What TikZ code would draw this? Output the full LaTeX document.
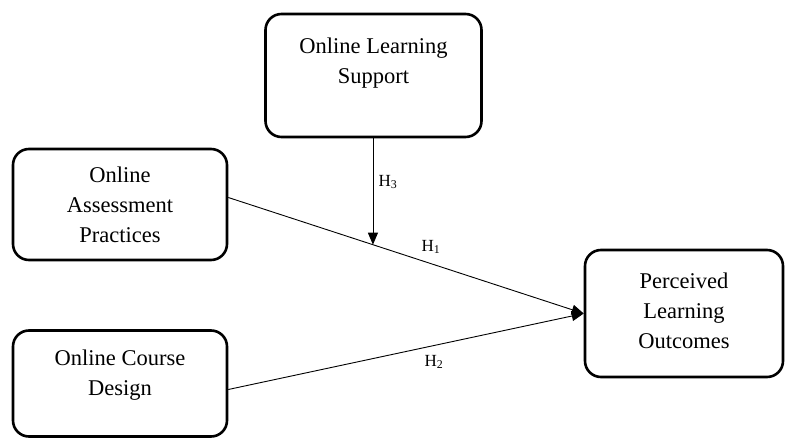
\documentclass[tikz,border=0pt]{standalone}
\usepackage{fontspec}
\setmainfont{Liberation Serif}
\usetikzlibrary{arrows.meta,calc}
\tikzset{
  box/.style={draw=black, line width=2.6pt, rounded corners=16pt, fill=white},
  txt/.style={align=center, font=\fontsize{22.5}{30}\selectfont, inner sep=0pt},
  hyp/.style={font=\fontsize{17}{19}\selectfont, inner sep=0pt},
  link/.style={line width=0.9pt, -{Triangle[length=12pt,width=10pt]}}
}
\begin{document}
\begin{tikzpicture}[x=1pt,y=-1pt]
\useasboundingbox (0,0) rectangle (786,438);
% boxes
\node[box, minimum width=216pt, minimum height=123pt] (ols) at (373.5,75.5) {};
\node[box, minimum width=214pt, minimum height=111pt] (oap) at (120,204.5) {};
\node[box, minimum width=214pt, minimum height=106pt] (ocd) at (120,383.5) {};
\node[box, minimum width=198pt, minimum height=127pt] (plo) at (684,313.5) {};
% texts
\node[txt] (olsT) at (373.5,63) {Online Learning\\Support};
\node[txt] (oapT) at (120,205) {Online\\Assessment\\Practices};
\node[txt] (ocdT) at (120,375) {Online Course\\Design};
\node[txt] (ploT) at (684,311) {Perceived\\Learning\\Outcomes};
% connectors
\coordinate (s1) at ([yshift=7pt]oap.east);
\coordinate (s2) at ([yshift=-6pt]ocd.east);
\draw[link] (s1) -- (plo.west);
\draw[link] (s2) -- (plo.west);
\coordinate (m) at ($(s1)!0.407!(plo.west)$);
\draw[link] (ols.south -| m) -- (m);
% labels
\node[hyp] (h3) at (388,182) {H\textsubscript{3}};
\node[hyp] (h1) at (431,247) {H\textsubscript{1}};
\node[hyp] (h2) at (434,362) {H\textsubscript{2}};
\end{tikzpicture}
\end{document}
